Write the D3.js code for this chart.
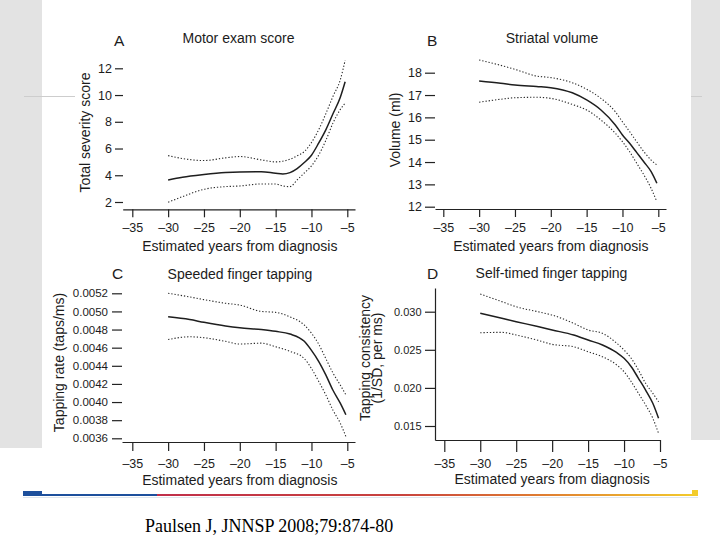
<!DOCTYPE html>
<html>
<head>
<meta charset="utf-8">
<script src="https://cdn.jsdelivr.net/npm/d3@7"></script>
<style>
  html, body { margin: 0; padding: 0; background: #fff; }
  svg { display: block; }
  .sans { font-family: "Liberation Sans", Arial, Helvetica, sans-serif; }
</style>
</head>
<body>
<svg id="chart" width="720" height="540"></svg>
<script>
// ---------------- DATA ----------------
const xTicks = [-35, -30, -25, -20, -15, -10, -5];

// Panel A: Motor exam score
const yearsA = [-30, -28, -25, -22, -20, -17, -15, -14, -13, -12, -11, -10, -9, -8, -7, -6, -5.3];
const motorFit   = [3.65, 3.85, 4.05, 4.2, 4.25, 4.27, 4.15, 4.1, 4.2, 4.5, 4.95, 5.5, 6.4, 7.4, 8.6, 9.8, 11.0];
const motorUpper = [5.47, 5.25, 5.1, 5.3, 5.4, 5.15, 5.0, 5.05, 5.2, 5.45, 5.77, 6.45, 7.4, 8.6, 9.9, 11.1, 12.6];
const motorLower = [1.98, 2.4, 2.95, 3.15, 3.2, 3.35, 3.35, 3.2, 3.15, 3.65, 4.17, 4.7, 5.5, 6.6, 7.9, 8.9, 9.4];
const motorTicks = [2, 4, 6, 8, 10, 12];

// Panel B: Striatal volume
const yearsB = [-30, -27, -25, -22, -20, -17, -15, -13, -11, -10, -9, -8, -7, -6, -5.2];
const volFit   = [17.63, 17.53, 17.45, 17.38, 17.33, 17.1, 16.78, 16.33, 15.66, 15.21, 14.84, 14.42, 14.0, 13.57, 13.05];
const volUpper = [18.57, 18.33, 18.15, 17.85, 17.78, 17.55, 17.26, 16.85, 16.25, 15.8, 15.36, 14.9, 14.46, 14.09, 13.87];
const volLower = [16.68, 16.81, 16.88, 16.9, 16.85, 16.58, 16.33, 15.88, 15.29, 14.91, 14.46, 13.94, 13.42, 12.82, 12.22];
const volTicks = [12, 13, 14, 15, 16, 17, 18];

// Panel C: Speeded finger tapping
const yearsC = [-30, -27, -25, -22, -20, -17, -15, -13, -11, -10, -9, -8, -7, -6, -5.2];
const speedFit   = [0.00494, 0.00491, 0.00488, 0.00484, 0.00482, 0.00480, 0.00478, 0.00475, 0.00467, 0.00457, 0.00445, 0.00430, 0.00413, 0.00399, 0.00386];
const speedUpper = [0.00520, 0.00516, 0.00513, 0.00509, 0.00507, 0.00500, 0.00499, 0.00494, 0.00485, 0.00476, 0.00464, 0.00448, 0.00432, 0.00419, 0.00408];
const speedLower = [0.00469, 0.00472, 0.00471, 0.00467, 0.00464, 0.00465, 0.00461, 0.00456, 0.00448, 0.00437, 0.00423, 0.00408, 0.00391, 0.00377, 0.00362];
const speedTicks = [0.0036, 0.0038, 0.0040, 0.0042, 0.0044, 0.0046, 0.0048, 0.0050, 0.0052];

// Panel D: Self-timed finger tapping
const yearsD = [-30, -27, -25, -22, -20, -17, -15, -13, -11, -10, -9, -8, -7, -6, -5.2];
const selfFit   = [0.02979, 0.02913, 0.02869, 0.02805, 0.0276, 0.02694, 0.02628, 0.02563, 0.02462, 0.02388, 0.02278, 0.02126, 0.01972, 0.01798, 0.01601];
const selfUpper = [0.03232, 0.03132, 0.03065, 0.0300, 0.02956, 0.02847, 0.0276, 0.02716, 0.02585, 0.02497, 0.02388, 0.02235, 0.0206, 0.01929, 0.01819];
const selfLower = [0.02724, 0.02729, 0.02694, 0.02625, 0.02572, 0.0254, 0.02475, 0.02409, 0.023, 0.02212, 0.02081, 0.01929, 0.01776, 0.01601, 0.01404];
const selfTicks = [0.015, 0.020, 0.025, 0.030];

const xTitle = "Estimated years from diagnosis";
const citation = "Paulsen J, JNNSP 2008;79:874-80";

// ---------------- LAYOUT ----------------
const SANS = '"Liberation Sans", Arial, Helvetica, sans-serif';
const SERIF = '"Liberation Serif", "Times New Roman", Times, serif';
const INK = "#1c1c1c";

const panels = [
  { letter: "A", title: "Motor exam score", yTitle: ["Total severity score"],
    years: yearsA, fit: motorFit, upper: motorUpper, lower: motorLower,
    yTicks: motorTicks, yFmt: d3.format("d"), yDom: [2, 12], yRng: [202, 68.3],
    xRng: [132.3, 347.3], axisY: 209.3, axisX0: 122.7, axisX1: 355, xTickLen: 8,
    yAxisX: 123, yTickLen: 8, yPad: 3, yFont: 12.5, yLine: null,
    letterPos: [114, 46], titlePos: [238.5, 43], yTitleX: [90], yTitleY: 132.5,
    xLblBase: 232.5, xTitleBase: 251 },
  { letter: "B", title: "Striatal volume", yTitle: ["Volume (ml)"],
    years: yearsB, fit: volFit, upper: volUpper, lower: volLower,
    yTicks: volTicks, yFmt: d3.format("d"), yDom: [12, 18], yRng: [206.7, 72.7],
    xRng: [443.3, 658.3], axisY: 209, axisX0: 435, axisX1: 666, xTickLen: 8,
    yAxisX: 435, yTickLen: 10, yPad: 3, yFont: 12.5, yLine: null,
    letterPos: [427, 46], titlePos: [552, 42.5], yTitleX: [400], yTitleY: 130,
    xLblBase: 232, xTitleBase: 251 },
  { letter: "C", title: "Speeded finger tapping", yTitle: ["Tapping rate (taps/ms)"],
    years: yearsC, fit: speedFit, upper: speedUpper, lower: speedLower,
    yTicks: speedTicks, yFmt: d3.format(".4f"), yDom: [0.0036, 0.0052], yRng: [438.3, 293.3],
    xRng: [132.3, 347.3], axisY: 442, axisX0: 122, axisX1: 355, xTickLen: 9,
    yAxisX: 122, yTickLen: 10, yPad: 4, yFont: 11.5, yLine: null,
    letterPos: [112, 279], titlePos: [240, 278.5], yTitleX: [64], yTitleY: 362.5,
    xLblBase: 468, xTitleBase: 484.5 },
  { letter: "D", title: "Self-timed finger tapping", yTitle: ["Tapping consistency", "(1/SD, per ms)"],
    years: yearsD, fit: selfFit, upper: selfUpper, lower: selfLower,
    yTicks: selfTicks, yFmt: d3.format(".3f"), yDom: [0.015, 0.030], yRng: [426, 311.7],
    xRng: [444.3, 660], axisY: 440, axisX0: 435, axisX1: 660, xTickLen: 12,
    yAxisX: 435, yTickLen: 10, yPad: 3.5, yFont: 11, yLine: [288, 440],
    letterPos: [427, 279], titlePos: [551.5, 278], yTitleX: [370, 382], yTitleY: 358,
    xLblBase: 467.5, xTitleBase: 483.5 }
];

const svg = d3.select("#chart");

// ---------------- BACKGROUND (slide template) ----------------
svg.append("rect").attr("x", 0).attr("y", 0).attr("width", 720).attr("height", 540).attr("fill", "#fff");
svg.append("rect").attr("x", 0).attr("y", 0).attr("width", 42).attr("height", 448).attr("fill", "#e3e3e3");
svg.append("rect").attr("x", 691).attr("y", 0).attr("width", 29).attr("height", 440).attr("fill", "#e3e3e3");
svg.append("line").attr("x1", 24).attr("x2", 75).attr("y1", 96.5).attr("y2", 96.5)
  .attr("stroke", "#cdcdcd").attr("stroke-width", 1);
svg.append("line").attr("x1", 691).attr("x2", 702).attr("y1", 96.5).attr("y2", 96.5)
  .attr("stroke", "#cdcdcd").attr("stroke-width", 1);

// ---------------- PANELS ----------------
panels.forEach(p => {
  const g = svg.append("g").attr("class", "sans");
  const x = d3.scaleLinear().domain([-35, -5]).range(p.xRng);
  const y = d3.scaleLinear().domain(p.yDom).range(p.yRng);

  // X axis (line extends past outer ticks)
  const xAx = x.copy().domain([x.invert(p.axisX0), x.invert(p.axisX1)]).range([p.axisX0, p.axisX1]);
  const xg = g.append("g").attr("transform", `translate(0,${p.axisY})`)
    .call(d3.axisBottom(xAx).tickValues(xTicks).tickSize(p.xTickLen).tickSizeOuter(0)
      .tickFormat(d => "\u2013" + Math.abs(d)));
  xg.select(".domain").attr("stroke", "#222").attr("stroke-width", 1.2);
  xg.selectAll(".tick line").attr("stroke", "#222").attr("stroke-width", 1.2);
  xg.selectAll(".tick text").style("font-family", SANS).style("font-size", "12.5px").attr("fill", INK)
    .attr("dy", null).attr("y", p.xLblBase - p.axisY);

  // Y axis
  let yAxScale = y;
  if (p.yLine) {
    yAxScale = y.copy().domain([y.invert(p.yLine[1]), y.invert(p.yLine[0])]).range([p.yLine[1], p.yLine[0]]);
  }
  const yg = g.append("g").attr("transform", `translate(${p.yAxisX},0)`)
    .call(d3.axisLeft(yAxScale).tickValues(p.yTicks).tickSize(p.yTickLen).tickPadding(p.yPad)
      .tickSizeOuter(0).tickFormat(p.yFmt));
  if (p.yLine) {
    yg.select(".domain").attr("stroke", "#222").attr("stroke-width", 1.2);
  } else {
    yg.select(".domain").remove();
  }
  yg.selectAll(".tick line").attr("stroke", "#222").attr("stroke-width", 1.2);
  yg.selectAll(".tick text").style("font-family", SANS).style("font-size", p.yFont + "px").attr("fill", INK);

  // Lines
  const mk = vals => d3.line().curve(d3.curveMonotoneX)
    .x((d, i) => x(p.years[i])).y(d => y(d))(vals);
  g.append("path").attr("d", mk(p.upper)).attr("fill", "none").attr("stroke", "#2a2a2a")
    .attr("stroke-width", 1.1).attr("stroke-dasharray", "1.3,1.9");
  g.append("path").attr("d", mk(p.lower)).attr("fill", "none").attr("stroke", "#2a2a2a")
    .attr("stroke-width", 1.1).attr("stroke-dasharray", "1.3,1.9");
  g.append("path").attr("d", mk(p.fit)).attr("fill", "none").attr("stroke", "#1e1e1e")
    .attr("stroke-width", 1.5);

  // Texts
  const txt = (sel, size) => sel.style("font-family", SANS).style("font-size", size + "px").attr("fill", INK);
  txt(g.append("text").attr("x", p.letterPos[0]).attr("y", p.letterPos[1]).text(p.letter), 15.5);
  txt(g.append("text").attr("x", p.titlePos[0]).attr("y", p.titlePos[1])
    .attr("text-anchor", "middle").text(p.title), 14);
  txt(g.append("text").attr("x", x(-20)).attr("y", p.xTitleBase)
    .attr("text-anchor", "middle").text(xTitle), 14);
  p.yTitle.forEach((t, i) => {
    txt(g.append("text")
      .attr("transform", `translate(${p.yTitleX[i]},${p.yTitleY}) rotate(-90)`)
      .attr("text-anchor", "middle").text(t), 14);
  });
});

// ---------------- FOOTER BAR ----------------
const defs = svg.append("defs");
const grad = defs.append("linearGradient").attr("id", "barGrad")
  .attr("gradientUnits", "userSpaceOnUse").attr("x1", 157).attr("x2", 698).attr("y1", 0).attr("y2", 0);
[[0, "#c02f4a"], [0.45, "#c8433e"], [0.7, "#de7a32"], [1, "#f3cc2c"]].forEach(s =>
  grad.append("stop").attr("offset", s[0]).attr("stop-color", s[1]));

svg.append("rect").attr("x", 23).attr("y", 491).attr("width", 19).attr("height", 5).attr("fill", "#1d4f9c");
svg.append("rect").attr("x", 42).attr("y", 494).attr("width", 115).attr("height", 2).attr("fill", "#1d4f9c");
svg.append("rect").attr("x", 157).attr("y", 494).attr("width", 541).attr("height", 2).attr("fill", "url(#barGrad)");
svg.append("rect").attr("x", 692).attr("y", 490).attr("width", 6).attr("height", 5).attr("fill", "#f3cc2c");
svg.append("rect").attr("x", 23).attr("y", 497).attr("width", 675).attr("height", 1).attr("fill", "#dfe6ee");

svg.append("text").attr("x", 145).attr("y", 532)
  .style("font-family", SERIF).style("font-size", "18px").attr("fill", "#000").text(citation);
</script>
</body>
</html>
